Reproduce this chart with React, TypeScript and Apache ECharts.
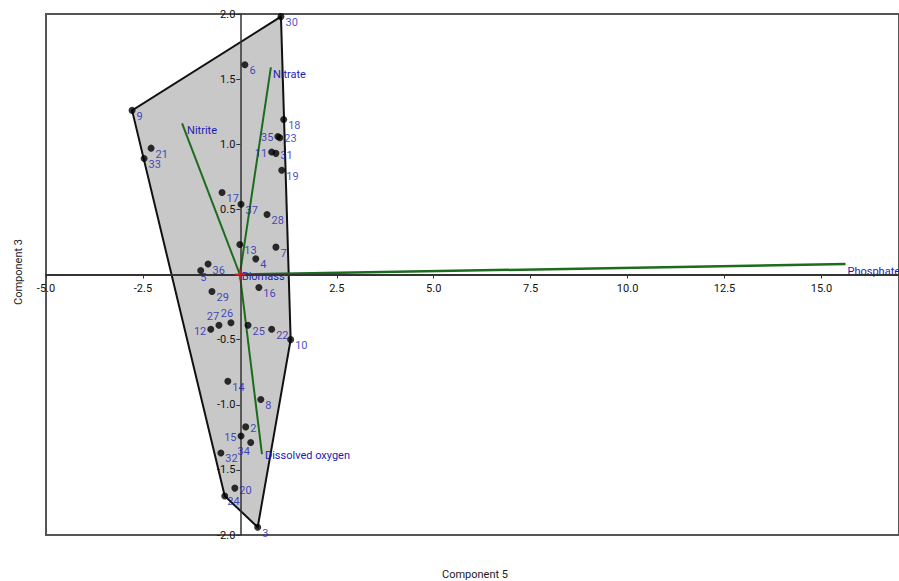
import React, { useEffect, useRef } from "react";
import * as echarts from "echarts";

// Sample scores (Component 5 on x, Component 3 on y)
const sampleIds = ["30", "6", "9", "18", "35", "23", "11", "31", "19", "21", "33", "17", "37", "28", "13", "7", "4", "36", "5", "29", "16", "12", "27", "26", "25", "22", "10", "14", "8", "2", "15", "34", "32", "20", "24", "3"];
const comp5 = [1.06, 0.13, -2.78, 1.13, 0.98, 1.03, 0.82, 0.93, 1.08, -2.29, -2.47, -0.46, 0.03, 0.70, 0.0, 0.93, 0.41, -0.82, -1.01, -0.72, 0.49, -0.75, -0.54, -0.23, 0.21, 0.82, 1.31, -0.31, 0.54, 0.15, 0.03, 0.28, -0.49, -0.13, -0.39, 0.46];
const comp3 = [1.98, 1.61, 1.26, 1.19, 1.06, 1.05, 0.94, 0.93, 0.80, 0.97, 0.89, 0.63, 0.54, 0.46, 0.23, 0.21, 0.12, 0.08, 0.03, -0.13, -0.10, -0.42, -0.39, -0.37, -0.39, -0.42, -0.50, -0.82, -0.96, -1.17, -1.24, -1.29, -1.37, -1.64, -1.70, -1.94];

// Variable loadings (biplot vectors)
const variableNames = ["Nitrate", "Nitrite", "Dissolved oxygen", "Phosphate", "Biomass"];
const variableX = [0.80, -1.49, 0.57, 15.62, 0.05];
const variableY = [1.59, 1.16, -1.38, 0.08, -0.005];

// Axis ranges and ticks
const xMin = -5;
const xMax = 17;
const yMin = -2;
const yMax = 2;
const xTickStep = 2.5;
const yTickStep = 0.5;

// Label placement tweaks (style only)
const labelStyleOverrides: Record<string, any> = {
  "35": { position: "left", distance: 1, offset: [0, 1] },
  "11": { position: "left", distance: 1, offset: [0, 1] },
  "12": { position: "left", distance: 1, offset: [0, 2] },
  "15": { position: "left", distance: 1, offset: [0, 1] },
  "27": { position: "top", distance: 1, offset: [-6, 1] },
  "26": { position: "top", distance: 1, offset: [-4, 1] },
  "34": { position: "bottom", distance: 1, offset: [-7, -1] },
  "5": { position: "right", distance: 1, offset: [-5, 7] },
  "23": { position: "right", distance: 1, offset: [0, 1] },
  "31": { position: "right", distance: 1, offset: [0, 2] },
  "20": { position: "right", distance: 1, offset: [0, 2] },
  "2": { position: "right", distance: 1, offset: [0, 2] },
  "24": { position: "right", distance: 1, offset: [-2, 6] },
};
const vectorLabelOffsets = [[2, 7], [5, 7], [3, 1], [2, 7], [0, 1]];

const BLUE = "#1c1cb4";
const GREEN = "#1d6b1d";
const FONT = "Roboto, 'Noto Sans', sans-serif";

const W = 899;
const H = 581;
const GRID_LEFT = 46;
const GRID_TOP = 14;
const GRID_RIGHT = -2;
const GRID_BOTTOM = 46;

function convexHull(pts: number[][]): number[][] {
  const p = pts.slice().sort((a, b) => (a[0] - b[0]) || (a[1] - b[1]));
  const cross = (o: number[], a: number[], b: number[]) => (a[0] - o[0]) * (b[1] - o[1]) - (a[1] - o[1]) * (b[0] - o[0]);
  const lower: number[][] = [];
  for (const q of p) {
    while (lower.length >= 2 && cross(lower[lower.length - 2], lower[lower.length - 1], q) <= 0) lower.pop();
    lower.push(q);
  }
  const upper: number[][] = [];
  for (let i = p.length - 1; i >= 0; i--) {
    const q = p[i];
    while (upper.length >= 2 && cross(upper[upper.length - 2], upper[upper.length - 1], q) <= 0) upper.pop();
    upper.push(q);
  }
  upper.pop();
  lower.pop();
  return lower.concat(upper);
}

export default function App() {
  const ref = useRef<HTMLDivElement>(null);
  useEffect(() => {
    if (!ref.current) return;
    const chart = echarts.init(ref.current, null, { renderer: "svg" });
    const points = comp5.map((x, i) => [x, comp3[i]]);
    const hull = convexHull(points);

    const gridW = W - GRID_LEFT - GRID_RIGHT;
    const gridH = H - GRID_TOP - GRID_BOTTOM;
    const yAxisOffset = -((0 - xMin) / (xMax - xMin)) * gridW;
    const xAxisOffset = -((0 - yMin) / (yMax - yMin)) * gridH;

    const isStep = (v: number, s: number) => Math.abs(v / s - Math.round(v / s)) < 1e-6;

    const option: any = {
      animation: false,
      grid: {
        left: GRID_LEFT, top: GRID_TOP, right: GRID_RIGHT, bottom: GRID_BOTTOM,
        show: true, borderColor: "#555", borderWidth: 2, backgroundColor: "transparent",
      },
      xAxis: {
        type: "value", min: xMin, max: xMax, interval: xTickStep,
        position: "bottom", offset: xAxisOffset, z: 4,
        axisLine: { onZero: false, lineStyle: { color: "#333", width: 2 } },
        axisTick: { show: true, length: 4, lineStyle: { color: "#333" } },
        axisLabel: {
          showMaxLabel: false, color: "#111", fontSize: 11, fontFamily: FONT, margin: 8,
          formatter: (v: number) => (v === 0 || !isStep(v, xTickStep)) ? "" : v.toFixed(1),
        },
        splitLine: { show: false },
      },
      yAxis: {
        type: "value", min: yMin, max: yMax, interval: yTickStep,
        position: "left", offset: yAxisOffset, z: 4,
        axisLine: { onZero: false, lineStyle: { color: "#333", width: 1.5 } },
        axisTick: { show: true, length: 4, lineStyle: { color: "#333" } },
        axisLabel: {
          color: "#111", fontSize: 11, fontFamily: FONT, margin: 5,
          hideOverlap: false,
          formatter: (v: number) => (v === 0) ? "" : v.toFixed(1),
        },
        splitLine: { show: false },
      },
      graphic: [
        {
          type: "text", x: 18, y: 272, rotation: Math.PI / 2,
          style: { text: "Component 3", fontSize: 11, fontFamily: FONT, fill: "#222", align: "center", verticalAlign: "middle" },
        },
        {
          type: "text", x: 475, y: 574,
          style: { text: "Component 5", fontSize: 11, fontFamily: FONT, fill: "#222", align: "center", verticalAlign: "middle" },
        },
      ],
      series: [
        {
          type: "custom",
          z: 1,
          silent: true,
          data: hull,
          renderItem: (params: any, api: any) => {
            if (params.dataIndex !== 0) return null;
            const pts = hull.map((h) => api.coord(h));
            return {
              type: "polygon",
              shape: { points: pts },
              style: { fill: "#c8c8c8", stroke: "#111", lineWidth: 2 },
            };
          },
        },
        {
          type: "custom",
          z: 3,
          silent: true,
          data: variableNames.map((n, i) => [variableX[i], variableY[i], i]),
          renderItem: (params: any, api: any) => {
            const i = params.dataIndex;
            const p0 = api.coord([0, 0]);
            const p1 = api.coord([variableX[i], variableY[i]]);
            const off = vectorLabelOffsets[i];
            return {
              type: "group",
              children: [
                {
                  type: "line",
                  shape: { x1: p0[0], y1: p0[1], x2: p1[0], y2: p1[1] },
                  style: { stroke: GREEN, lineWidth: i === 3 ? 2.5 : 2 },
                },
                {
                  type: "text",
                  x: p1[0] + off[0], y: p1[1] + off[1],
                  style: { text: variableNames[i], fill: BLUE, fontSize: 11, fontFamily: FONT, align: "left", verticalAlign: "middle" },
                },
              ],
            };
          },
        },
        {
          type: "scatter",
          z: 5,
          symbolSize: 7,
          itemStyle: { color: "#000" },
          label: {
            show: true, position: "right", distance: 1, offset: [0, 6],
            color: BLUE, fontSize: 11, fontFamily: FONT,
            formatter: (p: any) => p.name,
          },
          data: sampleIds.map((id, i) => ({
            name: id,
            value: [comp5[i], comp3[i]],
            label: labelStyleOverrides[id] || undefined,
          })),
        },
        {
          type: "scatter",
          z: 6,
          symbol: "path://M4,0h2v4h4v2h-4v4h-2v-4h-4v-2h4z",
          symbolSize: 10,
          itemStyle: { color: "#e02020" },
          data: [[0, 0]],
        },
      ],
    };
    chart.setOption(option);
    return () => chart.dispose();
  }, []);
  return <div ref={ref} style={{ position: "absolute", left: 0, top: 0, width: W, height: H }} />;
}
